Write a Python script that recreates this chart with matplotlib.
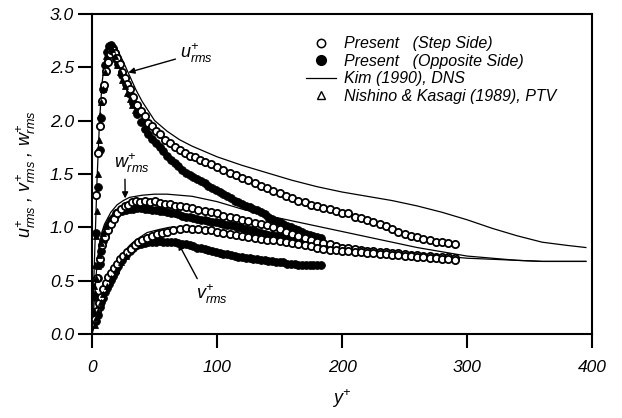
import numpy as np
import matplotlib
matplotlib.use('Agg')
import matplotlib.pyplot as plt
from matplotlib.lines import Line2D
from matplotlib.ticker import FormatStrFormatter

plt.rcParams['font.family'] = 'Liberation Sans'
plt.rcParams['font.style'] = 'italic'
plt.rcParams['mathtext.fontset'] = 'custom'
plt.rcParams['mathtext.it'] = 'Liberation Sans:italic'
plt.rcParams['mathtext.rm'] = 'Liberation Sans:italic'

# Kim (1990) DNS profiles
kim_u_y = [0, 2, 4, 6, 8, 10, 12, 14, 16, 18, 20, 25, 30, 35, 40, 50, 60, 70, 80, 100,
           120, 140, 160, 180, 200, 220, 240, 260, 280, 300, 320, 340, 360, 380, 395]
kim_u = [0, 0.72, 1.45, 2.0, 2.35, 2.55, 2.66, 2.71, 2.72, 2.70, 2.67, 2.55, 2.42, 2.29, 2.18, 2.0, 1.90, 1.82, 1.76, 1.66,
         1.58, 1.51, 1.44, 1.38, 1.33, 1.29, 1.25, 1.20, 1.14, 1.07, 0.99, 0.92, 0.86, 0.83, 0.81]
kim_w_y = [0, 2, 4, 6, 8, 10, 15, 20, 25, 30, 40, 50, 60, 70, 80, 100, 120, 140, 160, 180,
           200, 220, 240, 260, 280, 300, 320, 340, 360, 380, 395]
kim_w = [0, 0.35, 0.66, 0.85, 0.96, 1.03, 1.14, 1.21, 1.25, 1.28, 1.30, 1.31, 1.31, 1.30, 1.29, 1.24, 1.17, 1.11, 1.06, 1.01,
         0.96, 0.91, 0.86, 0.81, 0.77, 0.73, 0.71, 0.69, 0.68, 0.68, 0.68]
kim_v_y = [0, 2, 4, 6, 8, 10, 14, 17, 20, 25, 30, 35, 44, 54, 62, 70, 84, 100, 118, 140,
           160, 180, 200, 220, 240, 260, 280, 300, 320, 340, 360, 380, 395]
kim_v = [0, 0.08, 0.2, 0.3, 0.38, 0.45, 0.53, 0.62, 0.68, 0.76, 0.83, 0.88, 0.95, 0.98, 1.0, 1.0, 0.99, 0.97, 0.94, 0.91,
         0.88, 0.86, 0.83, 0.80, 0.77, 0.75, 0.73, 0.71, 0.70, 0.69, 0.68, 0.68, 0.68]

# Present, step side (open circles)
step_u_y = [3.5, 5, 6.5, 8, 9.5, 11, 12.5, 14, 15.5, 17, 18.5, 20, 22, 24, 26, 28, 30, 33, 36, 39,
            42, 45, 48, 51, 54, 58, 62, 66, 70, 74, 78, 82, 86, 90, 95, 100, 105, 110, 115, 120,
            125, 130, 135, 140, 145, 150, 155, 160, 165, 170, 175, 180, 185, 190, 195, 200, 205, 210, 215, 220,
            225, 230, 235, 240, 245, 250, 255, 260, 265, 270, 275, 280, 285, 290]
step_u = [1.30, 1.70, 1.95, 2.18, 2.33, 2.46, 2.55, 2.62, 2.66, 2.66, 2.63, 2.59, 2.53, 2.45, 2.40, 2.34, 2.30, 2.22, 2.15, 2.09,
          2.04, 1.98, 1.95, 1.90, 1.87, 1.82, 1.79, 1.75, 1.72, 1.70, 1.67, 1.66, 1.63, 1.61, 1.59, 1.56, 1.54, 1.51, 1.49, 1.46,
          1.44, 1.41, 1.39, 1.37, 1.34, 1.32, 1.29, 1.27, 1.25, 1.24, 1.21, 1.20, 1.18, 1.17, 1.15, 1.13, 1.13, 1.10, 1.09, 1.07,
          1.05, 1.03, 1.01, 0.98, 0.96, 0.94, 0.92, 0.91, 0.89, 0.88, 0.86, 0.86, 0.85, 0.84]
step_w_y = [4, 6, 8, 10, 12.5, 15, 17.5, 20, 23, 26, 29, 32, 35, 38, 42, 46, 50, 54, 58, 62,
            66, 70, 75, 80, 85, 90, 95, 100, 105, 110, 115, 120, 125, 130, 135, 140, 145, 150, 155, 160,
            165, 170, 175, 180, 185, 190, 195, 200, 205, 210, 215, 220, 225, 230, 235, 240, 245, 250, 255, 260,
            265, 270, 275, 280, 285, 290]
step_w = [0.52, 0.70, 0.83, 0.91, 0.97, 1.03, 1.08, 1.13, 1.17, 1.20, 1.21, 1.24, 1.25, 1.24, 1.25, 1.24, 1.25, 1.23, 1.22, 1.22,
          1.20, 1.20, 1.19, 1.18, 1.16, 1.15, 1.14, 1.13, 1.11, 1.10, 1.09, 1.07, 1.06, 1.04, 1.03, 1.02, 1.00, 0.98, 0.96, 0.94,
          0.92, 0.90, 0.88, 0.86, 0.85, 0.84, 0.82, 0.81, 0.81, 0.80, 0.79, 0.78, 0.78, 0.77, 0.77, 0.76, 0.76, 0.75, 0.74, 0.74,
          0.73, 0.73, 0.72, 0.72, 0.72, 0.71]
step_v_y = [2.5, 4, 5.5, 7, 9, 11, 13, 15, 17.5, 20, 22.5, 25, 28, 31, 34, 37, 40, 44, 48, 52,
            56, 60, 65, 70, 75, 80, 85, 90, 95, 100, 105, 110, 115, 120, 125, 130, 135, 140, 145, 150,
            155, 160, 165, 170, 175, 180, 185, 190, 195, 200, 205, 210, 215, 220, 225, 230, 235, 240, 245, 250,
            255, 260, 265, 270, 275, 280, 285, 290]
step_v = [0.14, 0.22, 0.29, 0.35, 0.42, 0.48, 0.53, 0.57, 0.62, 0.66, 0.70, 0.73, 0.77, 0.80, 0.83, 0.86, 0.88, 0.90, 0.92, 0.94,
          0.95, 0.96, 0.97, 0.98, 0.99, 0.98, 0.98, 0.97, 0.97, 0.96, 0.95, 0.94, 0.93, 0.92, 0.91, 0.90, 0.89, 0.88, 0.88, 0.87,
          0.86, 0.85, 0.84, 0.83, 0.82, 0.81, 0.80, 0.79, 0.79, 0.78, 0.78, 0.77, 0.77, 0.76, 0.76, 0.75, 0.75, 0.74, 0.74, 0.73,
          0.73, 0.72, 0.72, 0.71, 0.71, 0.70, 0.70, 0.69]

# Present, opposite side (filled circles)
opp_y = [3, 4.5, 6, 7.5, 9, 10.5, 12, 13.5, 15, 16.5, 18, 19.5, 21, 24, 27, 30, 33, 36, 39, 42,
         45, 48, 51, 54, 57, 60, 63, 66, 69, 72, 75, 78, 81, 84, 87, 90, 93, 96, 99, 102,
         105, 108, 111, 114, 117, 120, 123, 126, 129, 132, 135, 138, 141, 144, 147, 150, 153, 156, 159, 162,
         165, 168, 171, 174, 177, 180, 183]
opp_u = [0.95, 1.38, 1.72, 2.02, 2.30, 2.52, 2.64, 2.70, 2.71, 2.68, 2.63, 2.58, 2.53, 2.43, 2.34, 2.25, 2.16, 2.06, 1.99, 1.92,
         1.87, 1.83, 1.79, 1.75, 1.71, 1.67, 1.63, 1.60, 1.57, 1.54, 1.51, 1.49, 1.47, 1.45, 1.43, 1.41, 1.39, 1.37, 1.35, 1.33,
         1.31, 1.29, 1.27, 1.25, 1.24, 1.22, 1.20, 1.19, 1.17, 1.16, 1.14, 1.12, 1.10, 1.08, 1.06, 1.05, 1.03, 1.01, 1.00, 0.98,
         0.97, 0.96, 0.94, 0.93, 0.92, 0.91, 0.90]
opp_w = [0.35, 0.52, 0.66, 0.78, 0.87, 0.94, 0.99, 1.03, 1.07, 1.09, 1.11, 1.13, 1.14, 1.15, 1.16, 1.17, 1.17, 1.18, 1.18, 1.17,
         1.17, 1.16, 1.16, 1.15, 1.15, 1.14, 1.13, 1.13, 1.12, 1.11, 1.10, 1.10, 1.09, 1.08, 1.07, 1.07, 1.06, 1.05, 1.05, 1.04,
         1.03, 1.02, 1.02, 1.01, 1.00, 0.99, 0.98, 0.97, 0.97, 0.96, 0.95, 0.94, 0.93, 0.93, 0.92, 0.91, 0.90, 0.89, 0.88, 0.88,
         0.87, 0.86, 0.85, 0.85, 0.84, 0.83, 0.83]
opp_v = [0.12, 0.18, 0.25, 0.30, 0.34, 0.39, 0.43, 0.47, 0.51, 0.54, 0.58, 0.61, 0.64, 0.69, 0.74, 0.78, 0.81, 0.83, 0.84, 0.85,
         0.86, 0.86, 0.86, 0.87, 0.86, 0.86, 0.86, 0.86, 0.85, 0.84, 0.84, 0.83, 0.82, 0.81, 0.81, 0.80, 0.79, 0.78, 0.77, 0.76,
         0.75, 0.75, 0.74, 0.73, 0.72, 0.72, 0.71, 0.71, 0.70, 0.70, 0.69, 0.69, 0.68, 0.68, 0.67, 0.67, 0.67, 0.66, 0.66, 0.66,
         0.65, 0.65, 0.65, 0.65, 0.65, 0.65, 0.65]

# Nishino & Kasagi (1989), PTV near the wall
ptv_u_y = [1.5, 2.2, 3.0, 3.7, 4.5, 5.2, 6.0, 7.0, 8.5, 10, 11.5, 13, 14.5, 16, 18, 20, 22, 24, 26, 28, 30, 32, 34]
ptv_u = [0.45, 0.65, 0.92, 1.15, 1.50, 1.82, 2.05, 2.17, 2.30, 2.45, 2.60, 2.70, 2.71, 2.67, 2.60, 2.52, 2.45, 2.38, 2.32, 2.26, 2.20, 2.15, 2.10]
ptv_w_y = [1.5, 2.5, 3.5, 4.5, 5.5, 7, 9, 11]
ptv_w = [0.22, 0.38, 0.52, 0.64, 0.74, 0.85, 0.95, 1.01]
ptv_v_y = [2, 3.5, 5, 7, 9, 12, 15, 19, 23, 27]
ptv_v = [0.08, 0.15, 0.22, 0.30, 0.37, 0.45, 0.52, 0.60, 0.67, 0.73]

fig = plt.figure(figsize=(6.22, 4.18), dpi=100)
ax = fig.add_axes([0.148, 0.201, 0.804, 0.766])

for yy, vv in [(kim_u_y, kim_u), (kim_w_y, kim_w), (kim_v_y, kim_v)]:
    ax.plot(yy, vv, '-', color='k', lw=0.9, zorder=2)

opp_kw = dict(ls='none', marker='o', ms=5.6, mfc='k', mec='k', mew=0.6, zorder=3)
ax.plot(opp_y, opp_u, **opp_kw)
ax.plot(opp_y, opp_w, **opp_kw)
ax.plot(opp_y, opp_v, **opp_kw)

step_kw = dict(ls='none', marker='o', ms=5.2, mfc='white', mec='k', mew=1.3, zorder=4)
ax.plot(step_u_y, step_u, **step_kw)
ax.plot(step_w_y, step_w, **step_kw)
ax.plot(step_v_y, step_v, **step_kw)

ptv_kw = dict(ls='none', marker='^', ms=4.2, mfc='k', mec='k', mew=0.6, zorder=5)
ax.plot(ptv_u_y, ptv_u, **ptv_kw)
ax.plot(ptv_w_y, ptv_w, **ptv_kw)
ax.plot(ptv_v_y, ptv_v, **ptv_kw)

# component labels with arrows
arw = dict(arrowstyle='-|>', color='k', lw=1.0, mutation_scale=9, shrinkA=1, shrinkB=0)
ax.annotate(r'$u^{+}_{rms}$', xy=(29, 2.45), xytext=(70, 2.63), fontsize=13,
            ha='left', va='center', arrowprops=arw)
ax.annotate(r'$w^{+}_{rms}$', xy=(26.5, 1.27), xytext=(32, 1.60), fontsize=13,
            ha='center', va='center', arrowprops=dict(arw, relpos=(0.3, 0)))
ax.annotate(r'$v^{+}_{rms}$', xy=(69, 0.85), xytext=(96, 0.37), fontsize=13,
            ha='center', va='center', arrowprops=dict(arw, relpos=(0.1, 1)))

ax.set_xlim(0, 400)
ax.set_ylim(0, 3.0)
ax.set_xticks([0, 100, 200, 300, 400])
ax.set_yticks([0, 0.5, 1.0, 1.5, 2.0, 2.5, 3.0])
ax.yaxis.set_major_formatter(FormatStrFormatter('%.1f'))
ax.tick_params(axis='both', direction='out', length=10, width=1.5, labelsize=12.5)
ax.tick_params(axis='x', pad=9)
ax.tick_params(axis='y', pad=3)
for sp in ax.spines.values():
    sp.set_linewidth(1.5)

ax.set_xlabel(r'$y^{+}$', fontsize=13)
ax.xaxis.set_label_coords(0.5, -0.165)
ax.set_ylabel(r'$u^{+}_{rms}$ , $v^{+}_{rms}$ , $w^{+}_{rms}$', fontsize=13)
ax.yaxis.set_label_coords(-0.108, 0.5)

handles = [
    Line2D([], [], ls='none', marker='o', ms=6, mfc='white', mec='k', mew=1.1),
    Line2D([], [], ls='none', marker='o', ms=7, mfc='k', mec='k'),
    Line2D([], [], ls='-', color='k', lw=0.9),
    Line2D([], [], ls='none', marker='^', ms=6, mfc='white', mec='k', mew=1.0),
]
labels = ['Present   (Step Side)', 'Present   (Opposite Side)',
          'Kim (1990), DNS', 'Nishino & Kasagi (1989), PTV']
ax.legend(handles, labels, loc='upper left', bbox_to_anchor=(0.428, 0.93),
          frameon=False, fontsize=11.5, handlelength=1.9, handletextpad=0.5,
          labelspacing=0.16, borderpad=0, borderaxespad=0)

fig.savefig('out.png', dpi=100)
